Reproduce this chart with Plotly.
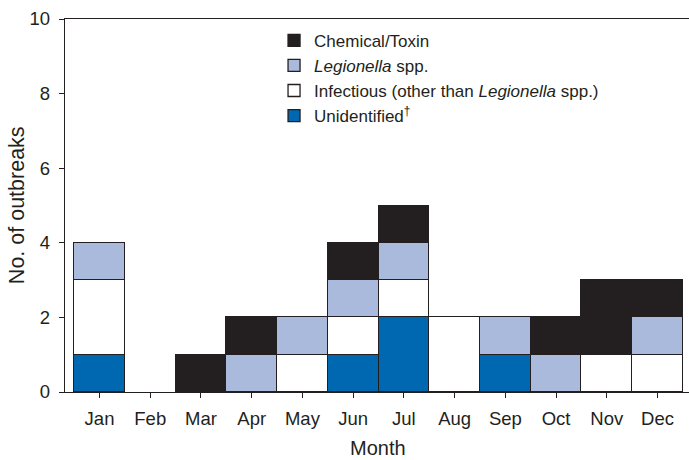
import plotly.graph_objects as go

months = ["Jan", "Feb", "Mar", "Apr", "May", "Jun", "Jul", "Aug", "Sep", "Oct", "Nov", "Dec"]
unidentified = [1, 0, 0, 0, 0, 1, 2, 0, 1, 0, 0, 0]
infectious = [2, 0, 0, 0, 1, 1, 1, 2, 0, 0, 1, 1]
legionella = [1, 0, 0, 1, 1, 1, 1, 0, 1, 1, 0, 1]
chemical = [0, 0, 1, 1, 0, 1, 1, 0, 0, 1, 2, 1]

series = [
    ("Unidentified<sup>†</sup>", unidentified, "#0068b0"),
    ("Infectious (other than <i>Legionella</i> spp.)", infectious, "#ffffff"),
    ("<i>Legionella</i> spp.", legionella, "#a9badd"),
    ("Chemical/Toxin", chemical, "#231f20"),
]

fig = go.Figure()
for name, vals, color in series:
    fig.add_trace(go.Bar(
        x=list(range(len(months))),
        y=[v if v else None for v in vals],
        name=name,
        marker=dict(color=color, line=dict(color="#231f20", width=1.3)),
    ))

font_family = "Liberation Sans, Arial, sans-serif"
W, H = 689, 460
L, R, T, B = 65, 0, 19, 68
fig.update_layout(
    barmode="stack",
    bargap=0,
    width=W, height=H,
    margin=dict(l=L, r=R, t=T, b=B, autoexpand=False),
    plot_bgcolor="white", paper_bgcolor="white",
    font=dict(family=font_family, size=18, color="#231f20"),
    showlegend=True,
    legend=dict(
        x=0.335, y=0.99, xanchor="left", yanchor="top",
        traceorder="reversed", tracegroupgap=0,
        font=dict(size=17, color="#231f20"),
        bgcolor="rgba(0,0,0,0)",
    ),
    xaxis=dict(
        tickmode="array",
        tickvals=list(range(len(months))),
        ticktext=months,
        range=[-0.68, 11.62],
        showline=True, linecolor="#231f20", linewidth=1.3,
        mirror=True,
        ticks="outside", ticklen=5, tickcolor="#231f20",
        showgrid=False, zeroline=False, automargin=False,
        tickfont=dict(size=18.5), ticklabelstandoff=5,
    ),
    yaxis=dict(
        range=[0, 10],
        tickvals=[0, 2, 4, 6, 8, 10],
        showline=True, linecolor="#231f20", linewidth=1.3,
        ticks="outside", ticklen=5, tickcolor="#231f20",
        showgrid=False, zeroline=False, automargin=False,
        tickfont=dict(size=18.5), ticklabelstandoff=5,
    ),
    annotations=[
        dict(text="Month", xref="paper", yref="paper", x=0.502, y=-0.150,
             xanchor="center", yanchor="middle", showarrow=False, font=dict(size=20)),
        dict(text="No. of outbreaks", xref="paper", yref="paper", x=-0.0775, y=0.5,
             xanchor="center", yanchor="middle", textangle=-90, showarrow=False, font=dict(size=21.5)),
    ],
)

fig.write_html("out.html", config={"displayModeBar": False},
               post_script="document.body.style.margin='0';")
